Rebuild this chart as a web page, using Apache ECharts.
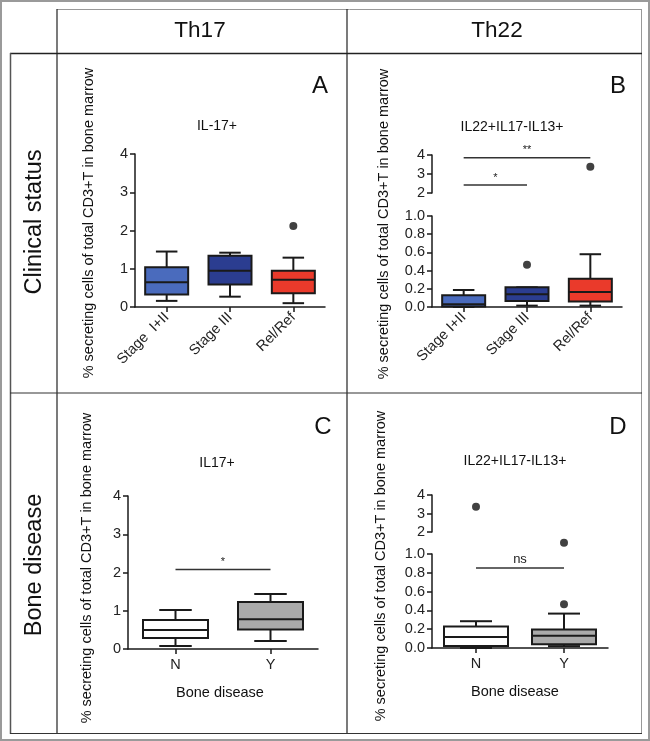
<!DOCTYPE html>
<html>
<head>
<meta charset="utf-8">
<script src="https://cdn.jsdelivr.net/npm/echarts@6/dist/echarts.min.js"></script>
<style>
html,body{margin:0;padding:0;background:#fff;}
#chart{width:650px;height:741px;}
</style>
</head>
<body>
<div id="chart"></div>
<script>
// ---------- data ----------
const catsStageA = ['Stage  I+II', 'Stage III', 'Rel/Ref'];
const catsStageB = ['Stage I+II', 'Stage III', 'Rel/Ref'];
const catsBone = ['N', 'Y'];

// box values: [min, Q1, median, Q3, max]
const boxA = [[0.16, 0.33, 0.65, 1.04, 1.45], [0.27, 0.59, 0.95, 1.34, 1.42], [0.10, 0.36, 0.71, 0.95, 1.29]];
const outA = [[2, 2.12]];

const boxB = [[0.0, 0.005, 0.03, 0.13, 0.187], [0.015, 0.065, 0.14, 0.216, 0.216], [0.015, 0.06, 0.165, 0.31, 0.58]];
const outBUpper = [[2, 3.38]];
const outBLower = [[1, 0.465]];
const sigBLines = [[0, 2, 3.86], [0, 1, 2.42]];
const sigBText = ['**', '*'];

const boxC = [[0.08, 0.29, 0.50, 0.76, 1.02], [0.21, 0.51, 0.78, 1.23, 1.44]];
const sigCLines = [[0, 1, 2.08]];
const sigCText = ['*'];

const boxD = [[0.0, 0.02, 0.117, 0.23, 0.285], [0.02, 0.04, 0.13, 0.198, 0.366]];
const outDUpper = [[0, 3.36]];
const outDLower = [[1, 1.12], [1, 0.465]];
const sigDLines = [[0, 1, 0.85]];
const sigDText = ['ns'];

const colorsStage = ['#4a6bbd', '#2b3d90', '#ea3a2b'];
const colorsBone = ['#ffffff', '#aaaaaa'];

// ---------- helpers ----------
const FONT = 'Liberation Sans, Arial, Helvetica, sans-serif';
const INK = '#1a1a1a';

function boxRender(boxW, colors) {
  return function (params, api) {
    const x = api.value(0);
    const ys = [1, 2, 3, 4, 5].map(i => api.coord([x, api.value(i)])[1]);
    const cx = api.coord([x, api.value(1)])[0];
    const hw = boxW / 2, cw = boxW / 4;
    const st = { stroke: INK, lineWidth: 2 };
    return {
      type: 'group',
      children: [
        { type: 'line', shape: { x1: cx, y1: ys[3], x2: cx, y2: ys[4] }, style: st },
        { type: 'line', shape: { x1: cx - cw, y1: ys[4], x2: cx + cw, y2: ys[4] }, style: st },
        { type: 'line', shape: { x1: cx, y1: ys[1], x2: cx, y2: ys[0] }, style: st },
        { type: 'line', shape: { x1: cx - cw, y1: ys[0], x2: cx + cw, y2: ys[0] }, style: st },
        { type: 'rect', shape: { x: cx - hw, y: ys[3], width: boxW, height: ys[1] - ys[3] },
          style: { fill: colors[params.dataIndex], stroke: INK, lineWidth: 2 } },
        { type: 'line', shape: { x1: cx - hw, y1: ys[2], x2: cx + hw, y2: ys[2] }, style: st }
      ]
    };
  };
}

function sigRender(texts, fontSize) {
  return function (params, api) {
    const a = api.coord([api.value(0), api.value(2)]);
    const b = api.coord([api.value(1), api.value(2)]);
    return {
      type: 'group',
      children: [
        { type: 'line', shape: { x1: a[0], y1: a[1], x2: b[0], y2: b[1] }, style: { stroke: '#333', lineWidth: 1.5 } },
        { type: 'text', x: (a[0] + b[0]) / 2, y: a[1] - 2,
          style: { text: texts[params.dataIndex], fill: '#222', font: fontSize + 'px ' + FONT, align: 'center', verticalAlign: 'bottom' } }
      ]
    };
  };
}

function yAx(grid, min, max, interval, dec) {
  return {
    type: 'value', gridIndex: grid, min: min, max: max, interval: interval,
    axisLine: { show: true, onZero: false, lineStyle: { color: INK, width: 1.5 } },
    axisTick: { show: true, length: 5, lineStyle: { color: INK, width: 1.5 } },
    axisLabel: { color: '#222', fontSize: 14.5, fontFamily: FONT, margin: 7,
      formatter: v => dec ? v.toFixed(1) : String(v) },
    splitLine: { show: false }
  };
}

function xCat(grid, cats, rotate, show) {
  return {
    type: 'category', gridIndex: grid, data: cats, show: show,
    axisLine: { show: true, onZero: false, lineStyle: { color: INK, width: 1.5 } },
    axisTick: { show: true, alignWithLabel: true, length: 5, lineStyle: { color: INK, width: 1.5 } },
    axisLabel: { color: '#222', fontSize: 14.5, fontFamily: FONT, rotate: rotate, margin: 8, interval: 0 },
    splitLine: { show: false }
  };
}

function boxSeries(xi, yi, data, w, colors) {
  return { type: 'custom', xAxisIndex: xi, yAxisIndex: yi, renderItem: boxRender(w, colors),
    encode: { x: 0, y: [1, 2, 3, 4, 5] }, data: data.map((b, i) => [i].concat(b)), z: 3 };
}
function outSeries(xi, yi, data) {
  return { type: 'scatter', xAxisIndex: xi, yAxisIndex: yi, data: data, symbolSize: 8, clip: false,
    itemStyle: { color: '#111' }, z: 4, silent: true };
}
function sigSeries(xi, yi, lines, texts, fs) {
  return { type: 'custom', xAxisIndex: xi, yAxisIndex: yi, renderItem: sigRender(texts, fs),
    encode: { x: [0, 1], y: 2 }, data: lines, z: 2, clip: false };
}

// ---------- graphic (table + texts) ----------
function L(x1, y1, x2, y2, c, w) {
  return { type: 'line', shape: { x1, y1, x2, y2 }, style: { stroke: c, lineWidth: w }, silent: true };
}
function T(x, y, text, size, rot) {
  return { type: 'text', x, y, rotation: rot || 0,
    style: { text, font: size + 'px ' + FONT, fill: '#111', align: 'center', verticalAlign: 'middle' }, silent: true };
}
const yName = '% secreting cells of total CD3+T in bone marrow';
const graphics = [
  { type: 'rect', shape: { x: 1, y: 1, width: 648, height: 739 }, style: { fill: 'none', stroke: '#9a9a9a', lineWidth: 2 }, silent: true },
  L(57, 9.5, 642, 9.5, '#999', 1),
  L(641.5, 9, 641.5, 733, '#999', 1),
  L(10, 53.5, 642, 53.5, '#222', 1.5),
  L(57, 9, 57, 734, '#222', 1.2),
  L(347, 9, 347, 734, '#222', 1.2),
  L(10.5, 53, 10.5, 734, '#555', 1.5),
  L(10, 393, 642, 393, '#333', 1.2),
  L(10, 733.5, 642, 733.5, '#333', 1.2),
  T(200, 31, 'Th17', 22.5),
  T(497, 31, 'Th22', 22.5),
  T(35, 222, 'Clinical status', 23.5, Math.PI / 2),
  T(35, 565, 'Bone disease', 23.5, Math.PI / 2),
  T(320, 86, 'A', 24), T(618, 86, 'B', 24), T(323, 427, 'C', 24), T(618, 427, 'D', 24),
  T(217, 126, 'IL-17+', 14), T(512, 127, 'IL22+IL17-IL13+', 14),
  T(217, 463, 'IL17+', 14), T(515, 461, 'IL22+IL17-IL13+', 14),
  T(89, 223, yName, 14.5, Math.PI / 2), T(384, 224, yName, 14.5, Math.PI / 2),
  T(87, 568, yName, 14.5, Math.PI / 2), T(381, 566, yName, 14.5, Math.PI / 2),
  T(220, 693, 'Bone disease', 14.5), T(515, 692, 'Bone disease', 14.5)
];

const option = {
  animation: false,
  backgroundColor: '#ffffff',
  grid: [
    { left: 135, top: 154, width: 190, height: 153 },
    { left: 432, top: 155, width: 190, height: 38 },
    { left: 432, top: 216, width: 190, height: 91 },
    { left: 128, top: 496, width: 190, height: 153 },
    { left: 432, top: 495, width: 176, height: 37 },
    { left: 432, top: 554, width: 176, height: 94 }
  ],
  xAxis: [
    xCat(0, catsStageA, 45, true),
    xCat(1, catsStageB, 0, false),
    xCat(2, catsStageB, 45, true),
    xCat(3, catsBone, 0, true),
    xCat(4, catsBone, 0, false),
    xCat(5, catsBone, 0, true)
  ],
  yAxis: [
    yAx(0, 0, 4, 1, false),
    yAx(1, 2, 4, 1, false),
    yAx(2, 0, 1, 0.2, true),
    yAx(3, 0, 4, 1, false),
    yAx(4, 2, 4, 1, false),
    yAx(5, 0, 1, 0.2, true)
  ],
  series: [
    boxSeries(0, 0, boxA, 43, colorsStage),
    outSeries(0, 0, outA),
    boxSeries(2, 2, boxB, 43, colorsStage),
    outSeries(1, 1, outBUpper),
    outSeries(2, 2, outBLower),
    sigSeries(1, 1, sigBLines, sigBText, 11),
    boxSeries(3, 3, boxC, 65, colorsBone),
    sigSeries(3, 3, sigCLines, sigCText, 11),
    boxSeries(5, 5, boxD, 64, colorsBone),
    outSeries(4, 4, outDUpper),
    outSeries(5, 5, outDLower),
    sigSeries(5, 5, sigDLines, sigDText, 13)
  ],
  graphic: graphics
};

const chart = echarts.init(document.getElementById('chart'), null, { renderer: 'canvas' });
chart.setOption(option);
</script>
</body>
</html>
